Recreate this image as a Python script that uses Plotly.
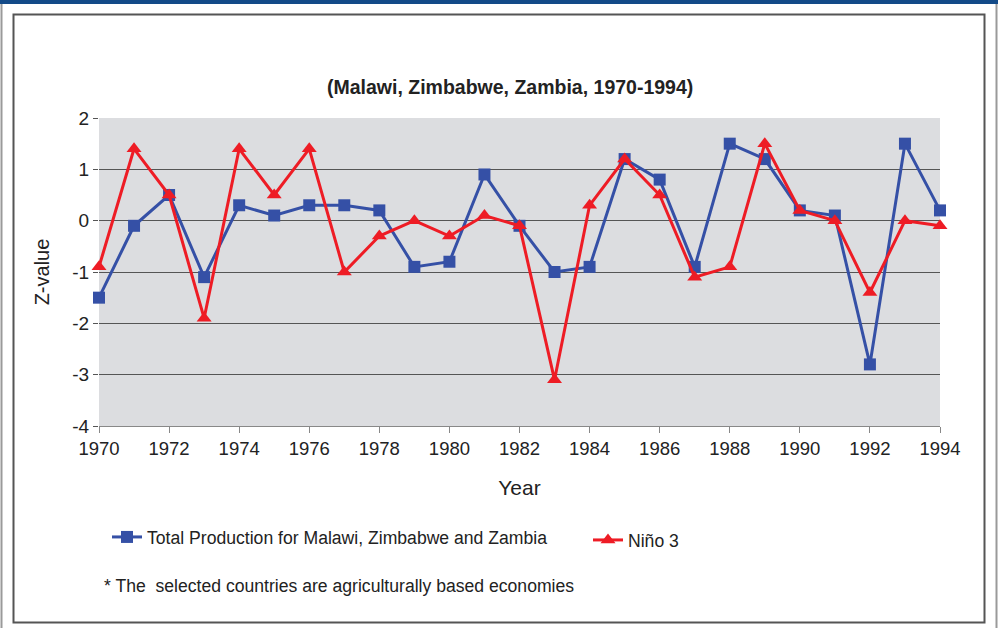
import plotly.graph_objects as go

years = list(range(1970, 1995))
production = [-1.5, -0.1, 0.5, -1.1, 0.3, 0.1, 0.3, 0.3, 0.2, -0.9, -0.8, 0.9, -0.1,
              -1.0, -0.9, 1.2, 0.8, -0.9, 1.5, 1.2, 0.2, 0.1, -2.8, 1.5, 0.2]
nino3 = [-0.9, 1.4, 0.5, -1.9, 1.4, 0.5, 1.4, -1.0, -0.3, 0.0, -0.3, 0.1, -0.1,
         -3.1, 0.3, 1.2, 0.5, -1.1, -0.9, 1.5, 0.2, 0.0, -1.4, 0.0, -0.1]
x_ticks = list(range(1970, 1995, 2))
y_ticks = [-4, -3, -2, -1, 0, 1, 2]
y_ticktext = ["-4", "-3", "-2", "-1", "0", "1", "2"]

BLUE = "#3550a6"
RED = "#ee1c25"
FONT = "Liberation Sans, Arial, sans-serif"

W, H = 998, 628
L, R, T, B = 99, 940, 118, 426  # plot area in px

def px(x):
    return (x - L) / (R - L)

def py(y):
    return (B - y) / (B - T)

fig = go.Figure()
fig.add_trace(go.Scatter(
    x=years, y=production, mode="lines+markers",
    name="Total Production for Malawi, Zimbabwe and Zambia",
    line=dict(color=BLUE, width=3),
    marker=dict(symbol="square", size=12, color=BLUE),
    cliponaxis=False, legend="legend",
))
fig.add_trace(go.Scatter(
    x=years, y=nino3, mode="lines+markers", name="Niño 3",
    line=dict(color=RED, width=3),
    marker=dict(symbol="triangle-up", size=13, color=RED),
    cliponaxis=False, legend="legend2",
))

shapes = [
    dict(type="rect", xref="paper", yref="paper", x0=px(0), x1=px(W), y0=py(0), y1=py(4),
         fillcolor="#134a88", line=dict(width=0), layer="above"),
    dict(type="line", xref="paper", yref="paper", x0=px(1.5), x1=px(1.5), y0=py(4), y1=py(628),
         line=dict(color="#9a9a9a", width=2)),
    dict(type="line", xref="paper", yref="paper", x0=px(996.5), x1=px(996.5), y0=py(4), y1=py(628),
         line=dict(color="#9a9a9a", width=2)),
    dict(type="rect", xref="paper", yref="paper", x0=px(13.5), x1=px(984.5), y0=py(14.5), y1=py(622.5),
         line=dict(color="#555555", width=2), fillcolor="rgba(0,0,0,0)"),
]

annotations = [
    dict(text="<b>(Malawi, Zimbabwe, Zambia, 1970-1994)</b>", xref="paper", yref="paper",
         x=px(510), y=py(87), xanchor="center", yanchor="middle", showarrow=False,
         font=dict(family=FONT, size=19.5, color="#222222")),
    dict(text="* The  selected countries are agriculturally based economies", xref="paper", yref="paper",
         x=px(102), y=py(586), xanchor="left", yanchor="middle", showarrow=False,
         font=dict(family=FONT, size=17.6, color="#222222")),
]

legend_common = dict(orientation="h", yanchor="middle", xanchor="left",
                     font=dict(family=FONT, size=17.6, color="#222222"),
                     bgcolor="rgba(0,0,0,0)", itemsizing="trace")

fig.update_layout(
    width=W, height=H,
    margin=dict(l=L, r=W - R, t=T, b=H - B, pad=0),
    paper_bgcolor="white",
    plot_bgcolor="#dcdde0",
    font=dict(family=FONT, size=18, color="#222222"),
    showlegend=True,
    legend=dict(x=px(107), y=py(537), **legend_common),
    legend2=dict(x=px(588), y=py(540), **legend_common),
    shapes=shapes,
    annotations=annotations,
    xaxis=dict(range=[1970, 1994], tickvals=x_ticks, ticks="outside", ticklen=6,
               tickcolor="#888888", tickwidth=1.3, showgrid=False, zeroline=False,
               showline=True, linecolor="#888888", linewidth=1.3,
               tickfont=dict(size=18.5), title=dict(text="Year", font=dict(size=21), standoff=21)),
    yaxis=dict(range=[-4, 2], tickvals=y_ticks, ticktext=y_ticktext, ticks="outside", ticklen=5,
               tickcolor="#555555", tickwidth=1.3, showgrid=True, gridcolor="#555555",
               gridwidth=1.3, zeroline=False, showline=False,
               tickfont=dict(size=19), title=dict(text="Z-value", font=dict(size=20), standoff=17)),
)

fig.write_html("out.html", config={"displayModeBar": False},
               post_script="document.body.style.margin='0px';document.body.style.overflow='hidden';")
